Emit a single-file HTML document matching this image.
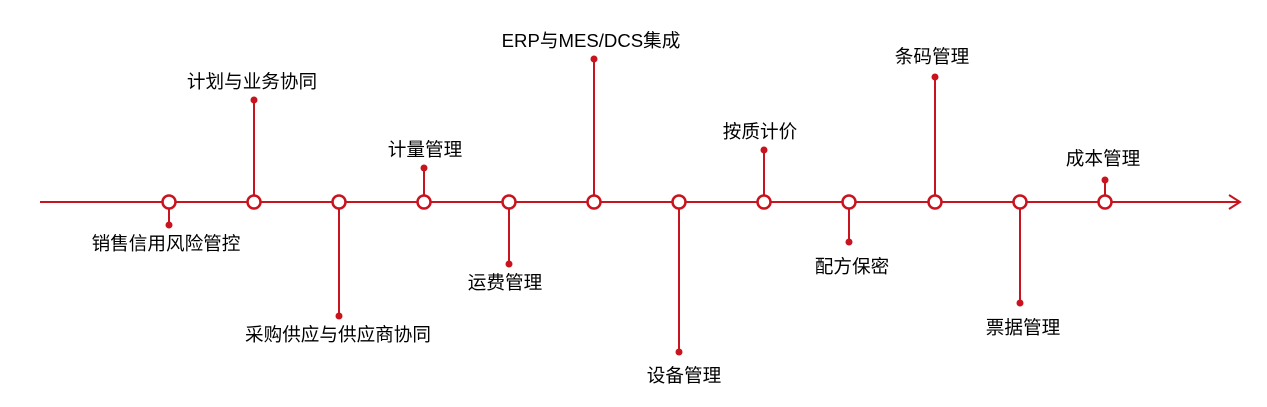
<!DOCTYPE html>
<html><head><meta charset="utf-8"><style>
html,body{margin:0;padding:0;background:#fff;width:1267px;height:407px;overflow:hidden}
text{font-family:"Liberation Sans","Noto Sans CJK SC",sans-serif;font-size:18.6px;fill:#000;text-anchor:middle}
</style></head><body>
<svg width="1267" height="407" viewBox="0 0 1267 407">
<g stroke="#c8141e" stroke-width="2" fill="none">
<line x1="40" y1="202" x2="1240" y2="202"/>
<polyline points="1229,195 1240,202 1229,209"/>
<line x1="169" y1="202" x2="169" y2="225"/>
<line x1="254" y1="202" x2="254" y2="100"/>
<line x1="339" y1="202" x2="339" y2="316"/>
<line x1="424" y1="202" x2="424" y2="168"/>
<line x1="509" y1="202" x2="509" y2="264"/>
<line x1="594" y1="202" x2="594" y2="59"/>
<line x1="679" y1="202" x2="679" y2="352"/>
<line x1="764" y1="202" x2="764" y2="150"/>
<line x1="849" y1="202" x2="849" y2="242"/>
<line x1="935" y1="202" x2="935" y2="77"/>
<line x1="1020" y1="202" x2="1020" y2="303"/>
<line x1="1105" y1="202" x2="1105" y2="180"/>
</g>
<g fill="#c8141e">
<circle cx="169" cy="225" r="3.5"/><circle cx="254" cy="100" r="3.5"/><circle cx="339" cy="316" r="3.5"/>
<circle cx="424" cy="168" r="3.5"/><circle cx="509" cy="264" r="3.5"/><circle cx="594" cy="59" r="3.5"/>
<circle cx="679" cy="352" r="3.5"/><circle cx="764" cy="150" r="3.5"/><circle cx="849" cy="242" r="3.5"/>
<circle cx="935" cy="77" r="3.5"/><circle cx="1020" cy="303" r="3.5"/><circle cx="1105" cy="180" r="3.5"/>
</g>
<g fill="#fff" stroke="#c8141e" stroke-width="2.5">
<circle cx="169" cy="202" r="6.5"/><circle cx="254" cy="202" r="6.5"/><circle cx="339" cy="202" r="6.5"/>
<circle cx="424" cy="202" r="6.5"/><circle cx="509" cy="202" r="6.5"/><circle cx="594" cy="202" r="6.5"/>
<circle cx="679" cy="202" r="6.5"/><circle cx="764" cy="202" r="6.5"/><circle cx="849" cy="202" r="6.5"/>
<circle cx="935" cy="202" r="6.5"/><circle cx="1020" cy="202" r="6.5"/><circle cx="1105" cy="202" r="6.5"/>
</g>
<text x="166" y="250">销售信用风险管控</text>
<text x="252" y="88">计划与业务协同</text>
<text x="338" y="341">采购供应与供应商协同</text>
<text x="425" y="156">计量管理</text>
<text x="505" y="289">运费管理</text>
<text x="591" y="47">ERP与MES/DCS集成</text>
<text x="684" y="382">设备管理</text>
<text x="760" y="138">按质计价</text>
<text x="852" y="273">配方保密</text>
<text x="932" y="63">条码管理</text>
<text x="1023" y="334">票据管理</text>
<text x="1103" y="165">成本管理</text>
</svg>
</body></html>
